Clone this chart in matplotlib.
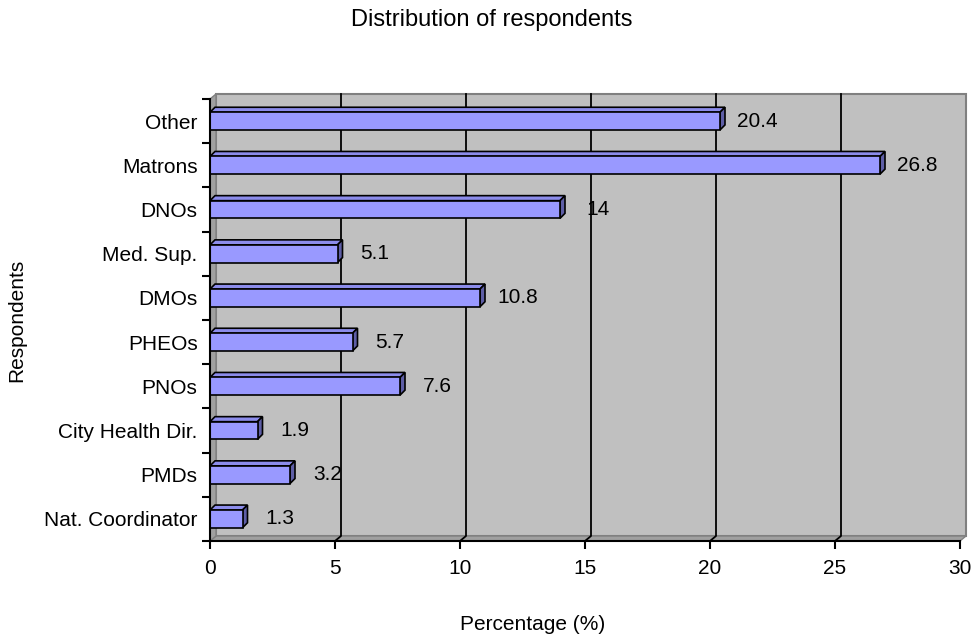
import matplotlib
matplotlib.use('Agg')
from matplotlib import pyplot as plt
from matplotlib.patches import Polygon
from matplotlib.transforms import IdentityTransform

respondents = ["Nat. Coordinator", "PMDs", "City Health Dir.", "PNOs", "PHEOs",
               "DMOs", "Med. Sup.", "DNOs", "Matrons", "Other"]
percentages = [1.3, 3.2, 1.9, 7.6, 5.7, 10.8, 5.1, 14, 26.8, 20.4]
x_ticks = [0, 5, 10, 15, 20, 25, 30]

plt.rcParams['font.family'] = ['Liberation Sans', 'DejaVu Sans']

fig = plt.figure(figsize=(9.75, 6.34), dpi=100)
ax = fig.add_axes([210 / 975, 93 / 634, 750 / 975, 442 / 634])
ax.set_xlim(x_ticks[0], x_ticks[-1])
ax.set_ylim(0, len(respondents))

# depth of the 3D wall / bars, in pixels
WALL_DX, WALL_DY = 6, 5
BAR_DX, BAR_DY = 5, 5
px = IdentityTransform()


def pt(x, y, dx=0, dy=0):
    X, Y = ax.transData.transform((x, y))
    return (X + dx, Y + dy)


xmin, xmax = x_ticks[0], x_ticks[-1]
ytop = len(respondents)

# back wall, floor and side wall
wall = [pt(xmin, 0, WALL_DX, WALL_DY), pt(xmax, 0, WALL_DX, WALL_DY),
        pt(xmax, ytop, WALL_DX, WALL_DY), pt(xmin, ytop, WALL_DX, WALL_DY)]
ax.add_patch(Polygon(wall, closed=True, transform=px, facecolor='#C0C0C0',
                     edgecolor='#808080', lw=1.5, zorder=0, clip_on=False))
floor = [pt(xmin, 0), pt(xmax, 0), pt(xmax, 0, WALL_DX, WALL_DY), pt(xmin, 0, WALL_DX, WALL_DY)]
ax.add_patch(Polygon(floor, closed=True, transform=px, facecolor='#A0A0A0',
                     edgecolor='#808080', lw=1.0, zorder=0.5, clip_on=False))
side = [pt(xmin, 0), pt(xmin, ytop), pt(xmin, ytop, WALL_DX, WALL_DY), pt(xmin, 0, WALL_DX, WALL_DY)]
ax.add_patch(Polygon(side, closed=True, transform=px, facecolor='#A0A0A0',
                     edgecolor='#808080', lw=1.0, zorder=0.5, clip_on=False))

# gridlines run across the floor and up the back wall
for x in x_ticks[1:-1]:
    p0 = pt(x, 0)
    p1 = pt(x, 0, WALL_DX, WALL_DY)
    p2 = pt(x, ytop, WALL_DX, WALL_DY)
    ax.plot([p0[0], p1[0], p2[0]], [p0[1], p1[1], p2[1]], transform=px,
            color='black', lw=1.3, zorder=1, clip_on=False)

# bars
bar_h = 0.4
for i, v in enumerate(percentages):
    yc = i + 0.5
    y0, y1 = yc - bar_h / 2, yc + bar_h / 2
    top = [pt(0, y1), pt(v, y1), pt(v, y1, BAR_DX, BAR_DY), pt(0, y1, BAR_DX, BAR_DY)]
    ax.add_patch(Polygon(top, closed=True, transform=px, facecolor='#8C8CEB',
                         edgecolor='black', lw=1.2, zorder=2, clip_on=False))
    rside = [pt(v, y0), pt(v, y1), pt(v, y1, BAR_DX, BAR_DY), pt(v, y0, BAR_DX, BAR_DY)]
    ax.add_patch(Polygon(rside, closed=True, transform=px, facecolor='#5E5EA6',
                         edgecolor='black', lw=1.2, zorder=2, clip_on=False))
ax.barh([i + 0.5 for i in range(len(respondents))], percentages, height=bar_h,
        color='#9999FF', edgecolor='black', lw=1.2, zorder=3)

for i, v in enumerate(percentages):
    ax.annotate(f"{v:g}", xy=(v, i + 0.5), xytext=(27, 0), textcoords='offset points',
                ha='center', va='center', fontsize=15, zorder=4)

# axes
for s in ['top', 'right']:
    ax.spines[s].set_visible(False)
for s in ['left', 'bottom']:
    ax.spines[s].set_linewidth(1.5)
    ax.spines[s].set_zorder(5)

ax.set_xticks(x_ticks)
ax.tick_params(axis='x', direction='out', length=6, width=1.5, pad=7, labelsize=15)
ax.set_yticks(range(len(respondents) + 1))
ax.set_yticklabels([])
ax.set_yticks([i + 0.5 for i in range(len(respondents))], minor=True)
ax.set_yticklabels(respondents, minor=True, fontsize=15)
ax.tick_params(axis='y', which='major', direction='out', length=6, width=1.5)
ax.tick_params(axis='y', which='minor', length=0, pad=9)

fig.text(492 / 975, 1 - 20 / 634, "Distribution of respondents", ha='center', va='center', fontsize=17)
fig.text(533 / 975, 1 - 624 / 634, "Percentage (%)", ha='center', va='center', fontsize=15)
fig.text(17 / 975, 1 - 320 / 634, "Respondents", ha='center', va='center', rotation=90, fontsize=15)

fig.savefig('out.png', dpi=100)
